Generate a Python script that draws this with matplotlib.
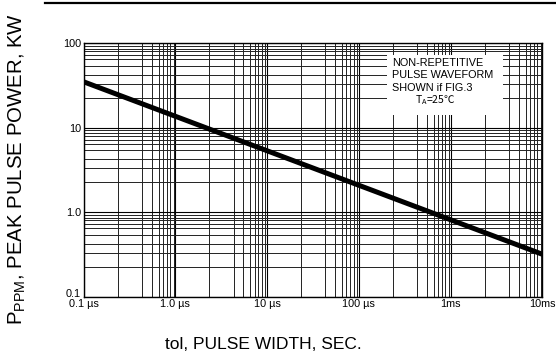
import matplotlib
matplotlib.use("Agg")
import matplotlib.pyplot as plt
from matplotlib.patches import Rectangle
from matplotlib.transforms import ScaledTranslation
import numpy as np

# pulse width (s) vs peak pulse power (kW), straight line on log-log
pulse_width = [1e-7, 1e-2]
peak_power = [35.0, 0.318]

x_ticks = [1e-7, 1e-6, 1e-5, 1e-4, 1e-3, 1e-2]
x_labels = ["0.1 \u00b5s", "1.0 \u00b5s", "10 \u00b5s", "100 \u00b5s", "1ms", "10ms"]
y_ticks = [0.1, 1.0, 10, 100]
y_labels = ["0.1", "1.0", "10", "100"]

# the printed grid is not a true 2..9 log grid
x_minor_mult = [2.35, 4.32, 5.52, 6.58, 7.33, 8.04, 8.79, 9.58]
y_minor_mult = [2.27, 3.32, 4.21, 5.38, 6.46, 7.26, 8.04, 8.63, 9.29]

note = ["NON-REPETITIVE", "PULSE WAVEFORM", "SHOWN if FIG.3"]

plt.rcParams['font.family'] = ['Liberation Sans', 'DejaVu Sans']

fig = plt.figure(figsize=(5.56, 3.56), dpi=100)
ax = fig.add_axes([0.1505, 0.1666, 0.8249, 0.7118])
ax.set_xscale("log")
ax.set_yscale("log")
ax.set_xlim(1e-7, 1e-2)
ax.set_ylim(0.1, 100)

# grid lines
for d in x_ticks:
	ax.axvline(d, color="black", lw=0.8, zorder=1)
	if d < 1e-2:
		for m in x_minor_mult:
			ax.axvline(d*m, color="#222222", lw=0.7, zorder=1)
for d in y_ticks:
	ax.axhline(d, color="black", lw=0.8, zorder=1)
	if d < 100:
		for m in y_minor_mult:
			ax.axhline(d*m, color="#222222", lw=0.7, zorder=1)

# white box for the note
ax.add_patch(Rectangle((0.661, 0.717), 0.253, 0.237, transform=ax.transAxes,
	facecolor="white", edgecolor="none", zorder=2))
for i, s in enumerate(note):
	ax.text(0.672, 0.921 - i*0.048, s, transform=ax.transAxes, fontsize=7.8,
		va="center", ha="left", zorder=3)
ax.text(0.766, 0.776, "T$_\\mathregular{A}$=25\u2103", transform=ax.transAxes, fontsize=7.5,
	va="center", ha="center", zorder=3, family=['Noto Sans CJK SC', 'DejaVu Sans'])

ax.plot(pulse_width, peak_power, color="black", lw=3.6, solid_capstyle="round", zorder=4)

ax.set_xticks(x_ticks)
ax.set_xticklabels(x_labels, fontsize=7.8)
ax.set_yticks(y_ticks)
ax.set_yticklabels(y_labels, fontsize=7.8)
ax.minorticks_off()
ax.tick_params(length=0, pad=2)
lab = ax.get_yticklabels()[0]
lab.set_transform(lab.get_transform() + ScaledTranslation(0, 3/72, fig.dpi_scale_trans))
for sp in ax.spines.values():
	sp.set_linewidth(1.0)

fig.text(0.032, 0.525, "P$_\\mathregular{PPM}$, PEAK PULSE POWER, KW", rotation=90,
	fontsize=14.7, va="center", ha="center")
fig.text(0.474, 0.031, "tol, PULSE WIDTH, SEC.", fontsize=12.5, va="center", ha="center")

fig.add_artist(plt.Line2D([0.081, 1.0], [0.991, 0.991], color="black", lw=1.6))

fig.savefig("out.png", dpi=100)
